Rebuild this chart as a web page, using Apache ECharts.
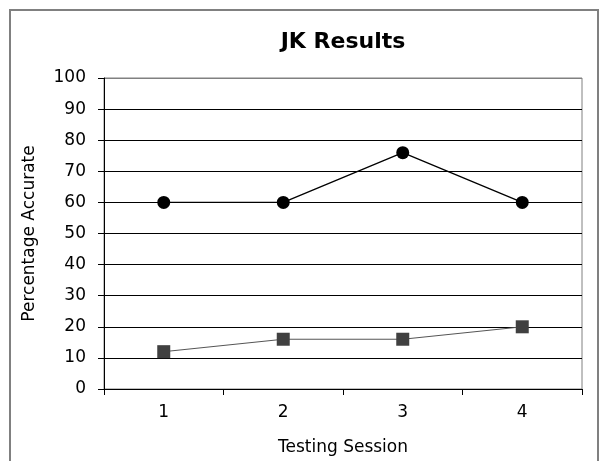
<!DOCTYPE html>
<html><head><meta charset="utf-8">
<script src="https://cdn.jsdelivr.net/npm/echarts@6/dist/echarts.min.js"></script>
<style>html,body{margin:0;padding:0;background:#fff}#c{width:599px;height:461px}</style>
</head><body><div id="c"></div>
<script>
var categories = ['1', '2', '3', '4'];
var seriesCircle = [60, 60, 76, 60];
var seriesSquare = [12, 16, 16, 20];
var yTicks = [0, 10, 20, 30, 40, 50, 60, 70, 80, 90, 100];

var font = 'DejaVu Sans, Verdana, sans-serif';
var splitColors = yTicks.map(function (v, i) { return i === yTicks.length - 1 ? '#808080' : '#000'; });
var chart = echarts.init(document.getElementById('c'));
chart.setOption({
  animation: false,
  backgroundColor: '#fff',
  title: { text: 'JK Results', left: 338, textAlign: 'center', top: 26,
    textStyle: { fontFamily: font, fontSize: 22, fontWeight: 'bold', color: '#000' } },
  graphic: [{ type: 'rect', shape: { x: 10, y: 10, width: 588, height: 470 },
    style: { fill: 'none', stroke: '#808080', lineWidth: 2 }, z: -1 }],
  grid: { left: 104, right: 17, top: 78, bottom: 70, show: true, borderColor: '#808080', borderWidth: 1 },
  xAxis: { type: 'category', data: categories, boundaryGap: true,
    name: 'Testing Session', nameLocation: 'middle', nameGap: 50,
    nameTextStyle: { fontFamily: font, fontSize: 17, color: '#000' },
    axisLine: { lineStyle: { color: '#000', width: 1 } },
    axisTick: { show: true, length: 6, lineStyle: { color: '#000' } },
    axisLabel: { fontFamily: font, fontSize: 17, color: '#000', margin: 15 } },
  yAxis: { type: 'value', min: 0, max: 100, interval: 10,
    name: 'Percentage Accurate', nameLocation: 'middle', nameGap: 66,
    nameTextStyle: { fontFamily: font, fontSize: 17, color: '#000' },
    axisLine: { show: true, lineStyle: { color: '#000', width: 1 } },
    axisTick: { show: true, length: 6, lineStyle: { color: '#000' } },
    axisLabel: { fontFamily: font, fontSize: 17, color: '#000', margin: 18 },
    splitLine: { show: true, lineStyle: { color: splitColors, width: 1 } } },
  series: [
    { type: 'line', data: seriesCircle, symbol: 'circle', symbolSize: 13,
      itemStyle: { color: '#000' }, lineStyle: { color: '#000', width: 1.3 } },
    { type: 'line', data: seriesSquare, symbol: 'rect', symbolSize: 13,
      itemStyle: { color: '#404040' }, lineStyle: { color: '#555', width: 1 } }
  ]
});
</script></body></html>
